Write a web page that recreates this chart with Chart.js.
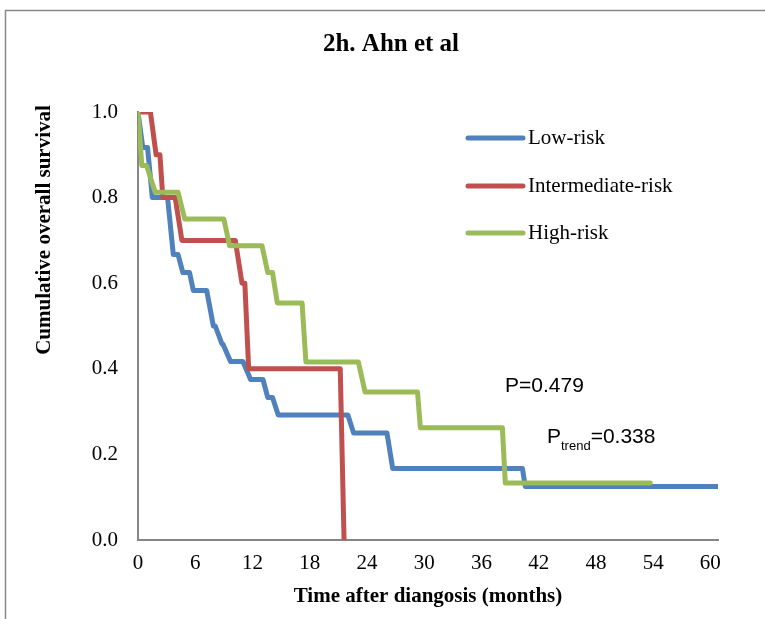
<!DOCTYPE html>
<html>
<head>
<meta charset="utf-8">
<script src="https://cdn.jsdelivr.net/npm/chart.js@4.4.1/dist/chart.umd.min.js"></script>
<style>
  html, body { margin: 0; padding: 0; background: #fff; }
  canvas { display: block; }
</style>
</head>
<body>
<canvas id="myChart" width="765" height="619"></canvas>
<script>
// values: time (months) and cumulative survival
const seriesNames = ["Low-risk", "Intermediate-risk", "High-risk"];
const seriesColors = ["#4F81BD", "#C0504D", "#9BBB59"];

const lowMonths = [0, 0.5, 1.0, 1.5, 3.1, 3.7, 4.2, 4.7, 5.4, 5.8, 7.2, 7.9, 8.1, 8.8, 8.9, 9.7, 11.0, 11.8, 13.1, 13.6, 14.1, 14.7, 22.0, 22.6, 26.1, 26.7, 40.3, 40.6, 60.7];
const lowSurv = [1.0, 0.917, 0.917, 0.8, 0.8, 0.667, 0.667, 0.625, 0.625, 0.583, 0.583, 0.5, 0.5, 0.458, 0.458, 0.417, 0.417, 0.375, 0.375, 0.333, 0.333, 0.292, 0.292, 0.25, 0.25, 0.167, 0.167, 0.125, 0.125];

const midMonths = [0, 1.3, 1.9, 2.3, 2.6, 3.9, 4.6, 10.2, 10.9, 11.2, 11.6, 21.2, 21.6];
const midSurv = [1.0, 1.0, 0.9, 0.9, 0.8, 0.8, 0.7, 0.7, 0.6, 0.6, 0.4, 0.4, 0.0];

const highMonths = [0, 0.4, 0.9, 1.8, 4.2, 4.9, 9.0, 9.6, 13.0, 13.6, 14.1, 14.6, 17.2, 17.6, 23.1, 23.8, 29.3, 29.6, 38.2, 38.5, 53.7];
const highSurv = [1.0, 0.875, 0.875, 0.8125, 0.8125, 0.75, 0.75, 0.6875, 0.6875, 0.625, 0.625, 0.554, 0.554, 0.416, 0.416, 0.346, 0.346, 0.262, 0.262, 0.133, 0.133];

const xTicks = [0, 6, 12, 18, 24, 30, 36, 42, 48, 54, 60];
const yTicks = [0, 0.2, 0.4, 0.6, 0.8, 1.0];

const chartTitle = "2h. Ahn et al";
const xTitle = "Time after diangosis (months)";
const yTitle = "Cumulative overall survival";
const pText = "P=0.479";
const pTrendValue = "=0.338";

const serif = "'Liberation Serif', 'Times New Roman', serif";
const sans = "'Liberation Sans', Arial, sans-serif";

function toPoints(xs, ys) {
  return xs.map((x, i) => ({ x: x, y: ys[i] }));
}

function makeSet(i, xs, ys, order) {
  return {
    label: seriesNames[i],
    data: toPoints(xs, ys),
    borderColor: seriesColors[i],
    backgroundColor: seriesColors[i],
    borderWidth: 5,
    borderCapStyle: "round",
    borderJoinStyle: "round",
    pointRadius: 0,
    tension: 0,
    fill: false,
    order: order
  };
}

// frame, title, y-axis title, legend and p-values
const extras = {
  id: "extras",
  beforeDraw(chart) {
    const c = chart.ctx;
    c.save();
    c.fillStyle = "#fff";
    c.fillRect(0, 0, chart.width, chart.height);
    c.strokeStyle = "#888";
    c.lineWidth = 1.5;
    c.beginPath();
    c.moveTo(5.5, chart.height);
    c.lineTo(5.5, 10.5);
    c.lineTo(chart.width, 10.5);
    c.stroke();
    c.restore();
  },
  afterDraw(chart) {
    const c = chart.ctx;
    c.save();
    c.fillStyle = "#000";

    // title
    c.font = "bold 25px " + serif;
    c.textAlign = "center";
    c.textBaseline = "middle";
    c.fillText(chartTitle, 391, 45);

    // y title
    c.save();
    c.translate(45, 230);
    c.rotate(-Math.PI / 2);
    c.font = "bold 21px " + serif;
    c.fillText(yTitle, 0, 0);
    c.restore();

    // legend
    const legendY = [138, 186, 233];
    c.textAlign = "left";
    c.font = "21px " + serif;
    seriesNames.forEach((name, i) => {
      c.strokeStyle = seriesColors[i];
      c.lineWidth = 5;
      c.lineCap = "round";
      c.beginPath();
      c.moveTo(468, legendY[i]);
      c.lineTo(523, legendY[i]);
      c.stroke();
      c.fillStyle = "#000";
      c.fillText(name, 528, legendY[i]);
    });

    // p-values
    c.textBaseline = "alphabetic";
    c.font = "21px " + sans;
    c.fillText(pText, 505, 392);
    let px = 547;
    c.fillText("P", px, 443);
    px += c.measureText("P").width;
    c.font = "13px " + sans;
    c.fillText("trend", px, 450);
    px += c.measureText("trend").width;
    c.font = "21px " + sans;
    c.fillText(pTrendValue, px, 443);

    c.restore();
  }
};

const ctx = document.getElementById("myChart").getContext("2d");
const chart = new Chart(ctx, {
  type: "line",
  data: {
    datasets: [
      makeSet(0, lowMonths, lowSurv, 3),
      makeSet(1, midMonths, midSurv, 2),
      makeSet(2, highMonths, highSurv, 1)
    ]
  },
  options: {
    responsive: false,
    animation: false,
    devicePixelRatio: 1,
    layout: { padding: { top: 112, right: 47, left: 0, bottom: 0 } },
    plugins: {
      legend: { display: false },
      title: { display: false },
      tooltip: { enabled: false }
    },
    scales: {
      x: {
        type: "linear",
        min: 0,
        max: 60.8,
        afterBuildTicks: s => { s.ticks = xTicks.map(v => ({ value: v })); },
        afterFit: s => { s.height = 79; },
        grid: { display: false, drawTicks: false },
        border: { display: true, color: "#868686", width: 2 },
        ticks: {
          padding: 11,
          color: "#000",
          font: { family: serif, size: 21 },
          maxRotation: 0,
          autoSkip: false
        },
        title: {
          display: true,
          text: xTitle,
          color: "#000",
          font: { family: serif, size: 21, weight: "bold" },
          padding: { top: 0, bottom: 10 }
        }
      },
      y: {
        type: "linear",
        min: 0,
        max: 1,
        afterBuildTicks: s => { s.ticks = yTicks.map(v => ({ value: v })); },
        afterFit: s => { s.width = 138; },
        grid: { display: false, drawTicks: false },
        border: { display: true, color: "#868686", width: 2 },
        ticks: {
          padding: 20,
          color: "#000",
          font: { family: serif, size: 21 },
          callback: v => v.toFixed(1)
        }
      }
    }
  },
  plugins: [extras]
});
</script>
</body>
</html>
